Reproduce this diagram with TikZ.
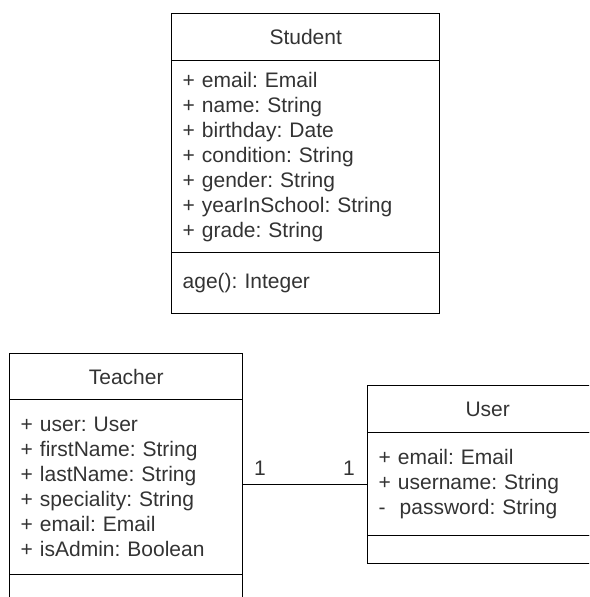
\documentclass[tikz,border=0pt]{standalone}
\usepackage{fontspec}
\setmainfont{Liberation Sans}
\usetikzlibrary{positioning}
\frenchspacing

\definecolor{labelgray}{RGB}{51,51,51}

\begin{document}
\begin{tikzpicture}[x=1pt,y=-1pt,
  box/.style={draw,line width=1.4pt,anchor=north west,inner sep=0pt,
    font=\fontsize{21}{25}\selectfont,text=labelgray},
  head/.style={box,minimum height=47pt},
  fields/.style={box,align=left,inner xsep=11pt}]

\useasboundingbox (0,0) rectangle (589,597);
\clip (0,0) rectangle (589,597);

% Student class
\node[head,minimum width=268pt] (student) at (171,13) {Student};
\node[fields,text width=246pt,minimum height=192pt] (studentattr) at (171,60)
  {+ email: Email\\+ name: String\\+ birthday: Date\\+ condition: String\\+ gender: String\\+ yearInSchool: String\\+ grade: String};
\node[fields,text width=246pt,minimum height=61pt] (studentop) at (171,252) {age(): Integer};

% Teacher class
\node[head,minimum width=233pt,minimum height=46pt] (teacher) at (9,353) {Teacher};
\node[fields,text width=211pt,minimum height=175pt] (teacherattr) at (9,399)
  {+ user: User\\+ firstName: String\\+ lastName: String\\+ speciality: String\\+ email: Email\\+ isAdmin: Boolean};
\node[fields,text width=211pt,minimum height=46pt] (teacherop) at (9,574) {};

% User class
\node[head,minimum width=240pt] (user) at (367,385) {User};
\node[fields,text width=218pt,minimum height=103pt] (userattr) at (367,432)
  {+ email: Email\\+ username: String\\-~~password: String};
\node[fields,text width=218pt,minimum height=28pt] (userop) at (367,535) {};

% association
\draw[line width=1.4pt] (teacherattr.east |- userattr.west) -- (userattr.west);
\node[font=\fontsize{21}{25}\selectfont,text=labelgray] (multteacher) at (260,468) {1};
\node[font=\fontsize{21}{25}\selectfont,text=labelgray] (multuser) at (349,468) {1};
\end{tikzpicture}
\end{document}
